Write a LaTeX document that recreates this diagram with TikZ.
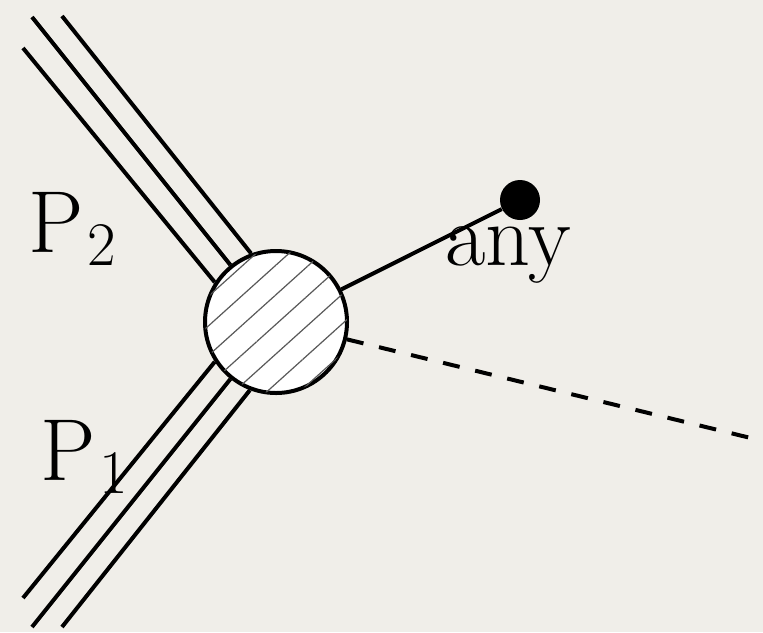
\documentclass[tikz,border=0pt]{standalone}
\usepackage{tikz}
\usepackage{xcolor}
\usetikzlibrary{patterns.meta}
\definecolor{paper}{RGB}{240,238,233}
\tikzstyle{blob}   = [circle, draw=black, line width=2pt, minimum size=71pt, inner sep=0pt,
                      fill=white, postaction={pattern={Lines[angle=42, distance=11pt, line width=0.6pt]},
                      pattern color=black!65}]
\tikzstyle{vertex} = [circle, fill=black, minimum size=20pt, inner sep=0pt]
\tikzstyle{txt}    = [anchor=base west, inner sep=0pt, font=\fontsize{44}{52}\selectfont]
\tikzstyle{leg}    = [line width=2pt]
\tikzstyle{ghost}  = [line width=2pt, dash pattern=on 8.5pt off 8pt]
\newcommand{\subidx}[1]{\kern2pt{\fontsize{31}{34}\selectfont\raisebox{-6.5pt}{#1}}}

\begin{document}
\begin{tikzpicture}[x=0.5pt, y=-0.5pt]
    \fill[paper] (0,0) rectangle (763,632);
    \useasboundingbox (0,0) rectangle (763,632);

    \node (blob) [blob] at (276,322) {};
    \node (dot) [vertex] at (520,200) {};

    % incoming legs
    \coordinate (p2a) at (23,48);
    \coordinate (p2b) at (32,17);
    \coordinate (p2c) at (62,16);
    \coordinate (p1a) at (23,598);
    \coordinate (p1b) at (32,627);
    \coordinate (p1c) at (62,627);
    \coordinate (exit) at (763,441);

    \draw[leg] (p2a) -- (blob.147);
    \draw[leg] (p2b) -- (blob);
    \draw[leg] (p2c) -- (blob.110.5);
    \draw[leg] (p1a) -- (blob.213);
    \draw[leg] (p1b) -- (blob);
    \draw[leg] (p1c) -- (blob.249.5);

    \draw[leg] (blob) -- (dot);
    \draw[ghost] (blob) -- (exit);

    \node (ptwo) [txt] at (28,252) {P\subidx{2}};
    \node (pone) [txt] at (40,480) {P\subidx{1}};
    \node (any)  [txt] at (445,265) {any};
\end{tikzpicture}
\end{document}
